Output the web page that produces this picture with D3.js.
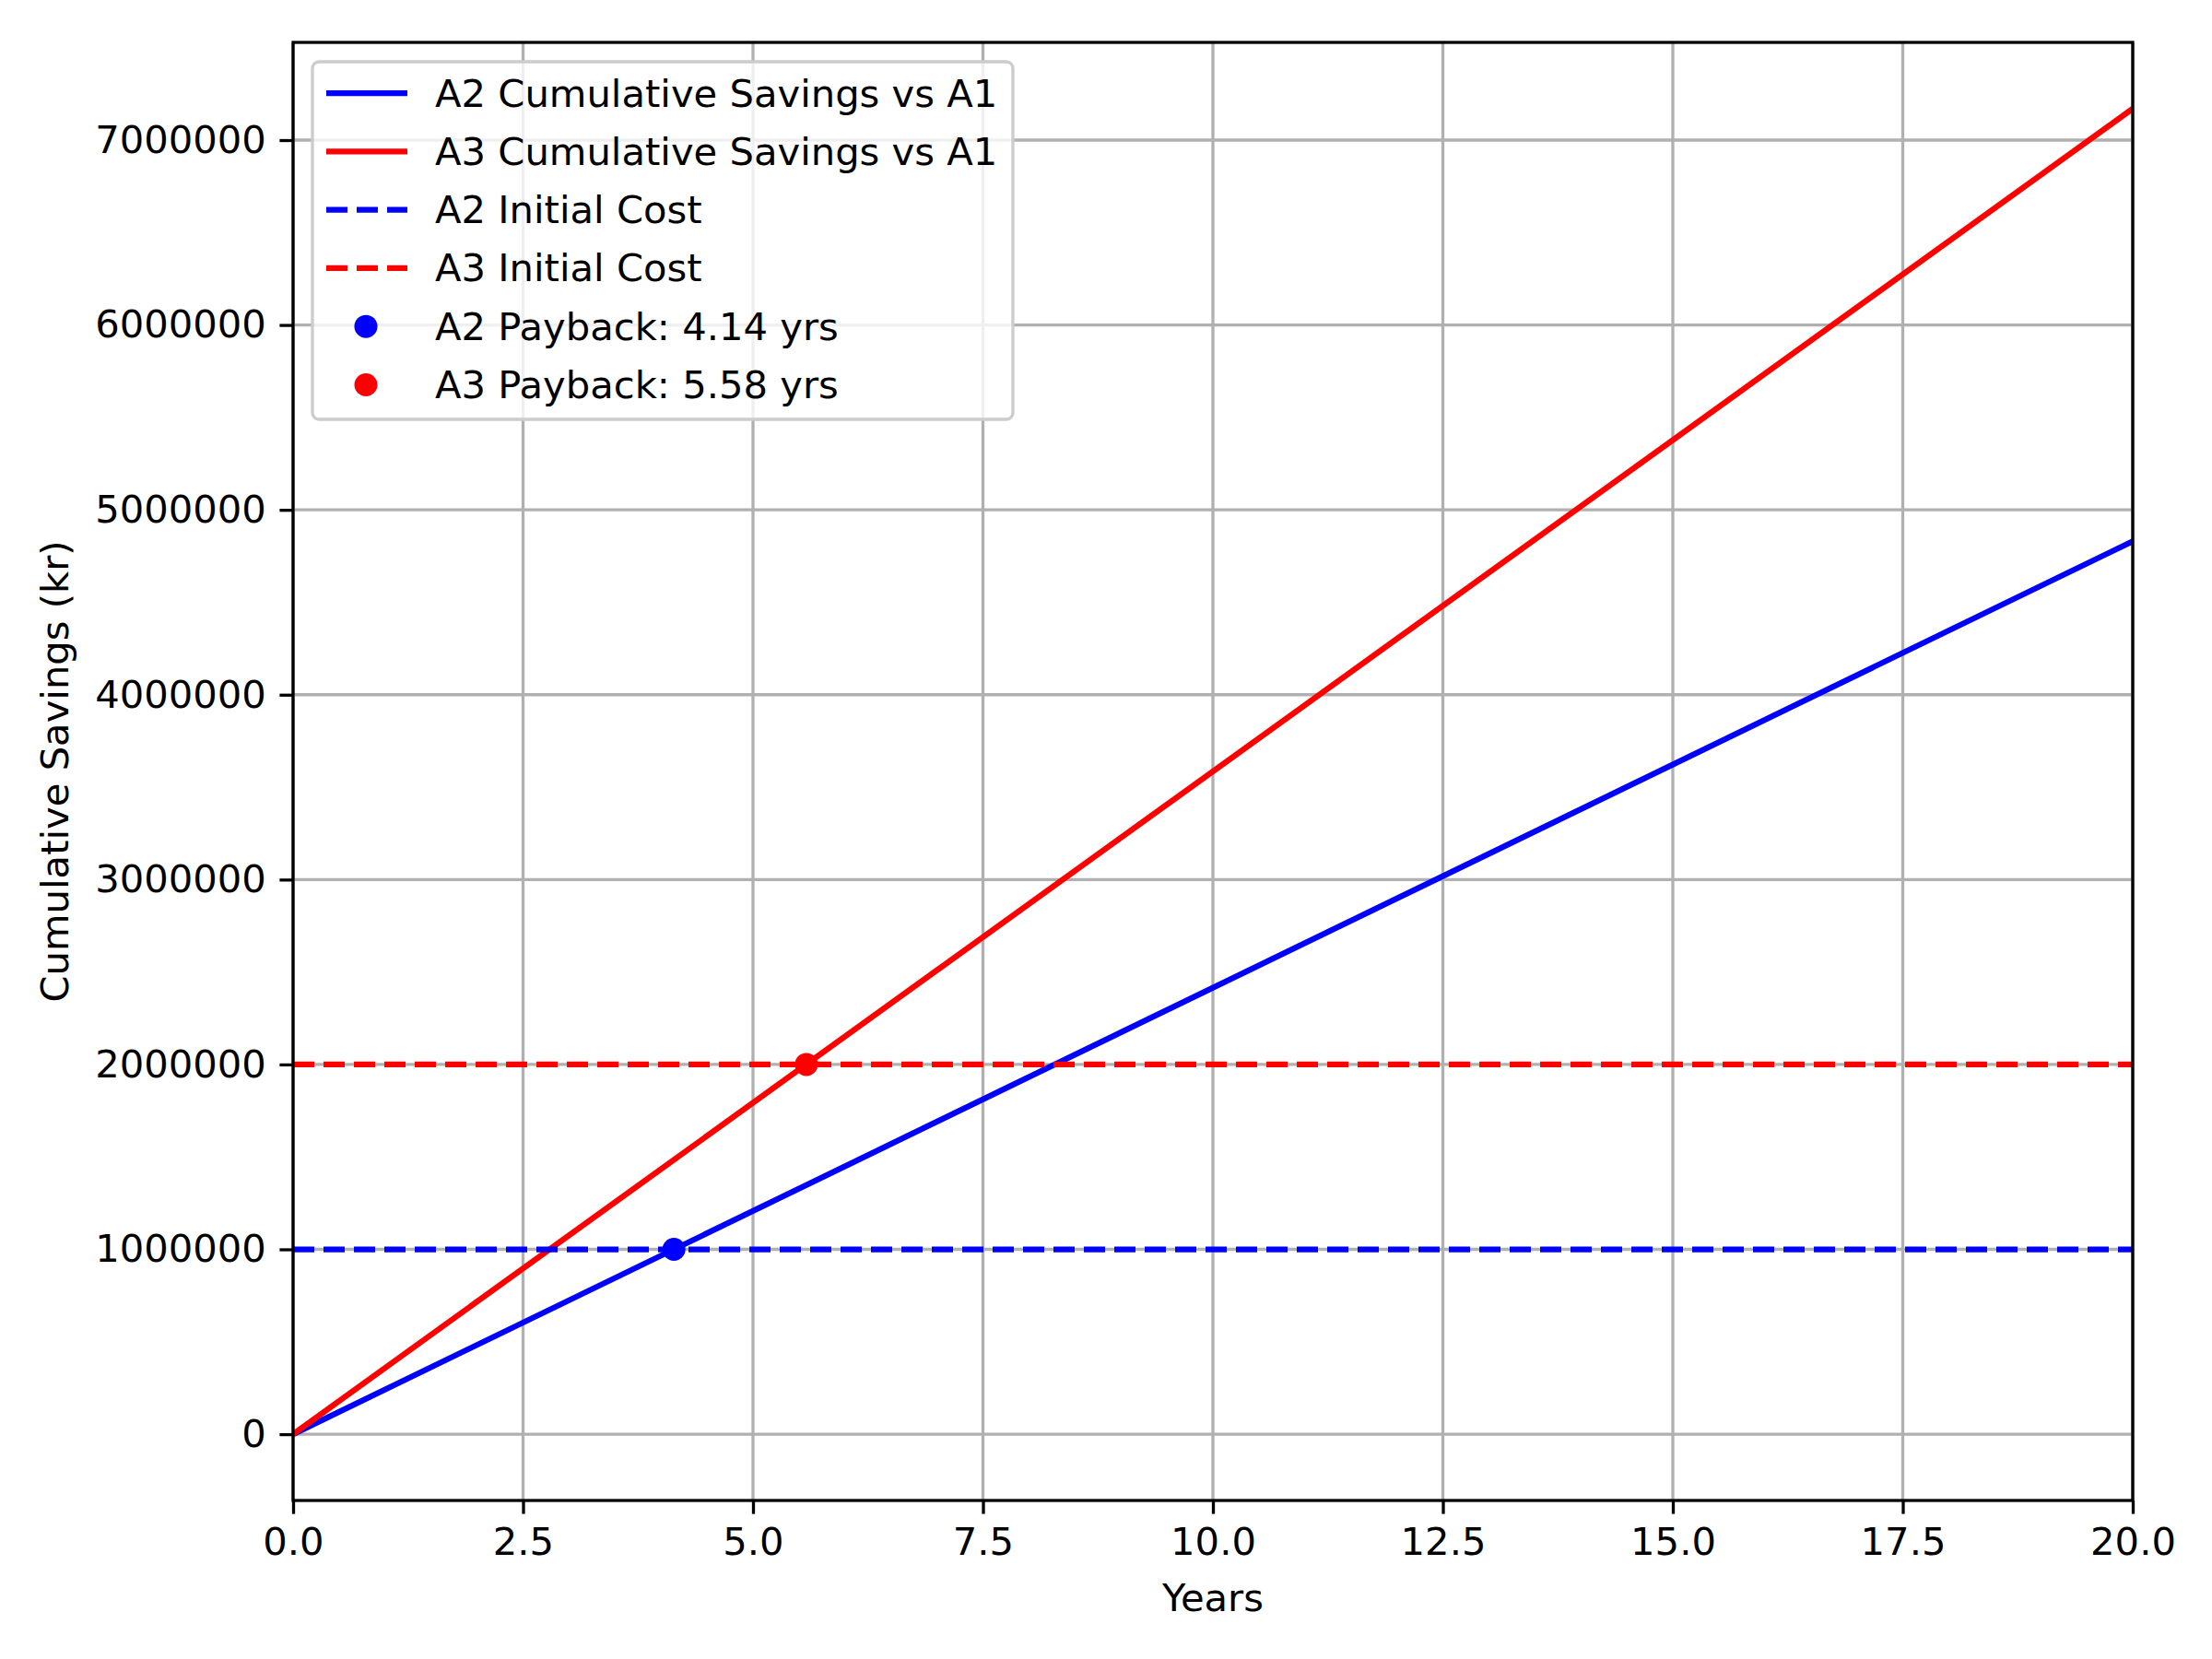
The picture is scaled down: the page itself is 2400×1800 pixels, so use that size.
<!DOCTYPE html>
<meta charset="utf-8">
<style>
body { margin: 0; background: #fff; }
text { font-family: "DejaVu Sans", sans-serif; }
</style>
<script src="https://cdn.jsdelivr.net/npm/d3@7"></script>
<body>
<script>
// data
var years = [0, 20];
var a2Savings = [0, 4830000];
var a3Savings = [0, 7170000];
var a2Cost = 1000000, a3Cost = 2000000;
var a2Payback = 4.14, a3Payback = 5.58;
var xTicks = [0, 2.5, 5, 7.5, 10, 12.5, 15, 17.5, 20];
var yTicks = [0, 1000000, 2000000, 3000000, 4000000, 5000000, 6000000, 7000000];

var W = 2400, H = 1800;
var m = {left: 318, right: 2314, top: 46, bottom: 1628};
var fs = 41.7;

var svg = d3.select("body").append("svg").attr("width", W).attr("height", H);

var x = d3.scaleLinear().domain([0, 20]).range([m.left, m.right]);
var y = d3.scaleLinear().domain([-358500, 7528500]).range([m.bottom, m.top]);

// grid
var g = svg.append("g").attr("stroke", "#b0b0b0").attr("stroke-width", 3.3);
xTicks.forEach(function(t) {
  g.append("line").attr("x1", x(t)).attr("x2", x(t)).attr("y1", m.top).attr("y2", m.bottom);
});
yTicks.forEach(function(t) {
  g.append("line").attr("y1", y(t)).attr("y2", y(t)).attr("x1", m.left).attr("x2", m.right);
});

var clip = svg.append("clipPath").attr("id", "c").append("rect")
  .attr("x", m.left).attr("y", m.top).attr("width", m.right - m.left).attr("height", m.bottom - m.top);
var plot = svg.append("g").attr("clip-path", "url(#c)");

var line = d3.line().x(function(d) { return x(d[0]); }).y(function(d) { return y(d[1]); });

plot.append("path").datum(years.map(function(t, i) { return [t, a2Savings[i]]; }))
  .attr("d", line).attr("fill", "none").attr("stroke", "blue").attr("stroke-width", 6.25);
plot.append("path").datum(years.map(function(t, i) { return [t, a3Savings[i]]; }))
  .attr("d", line).attr("fill", "none").attr("stroke", "red").attr("stroke-width", 6.25);

[[a2Cost, "blue"], [a3Cost, "red"]].forEach(function(c) {
  plot.append("line").attr("x1", m.left).attr("x2", m.right).attr("y1", y(c[0])).attr("y2", y(c[0]))
    .attr("stroke", c[1]).attr("stroke-width", 6.25).attr("stroke-dasharray", "23 10");
});

plot.append("circle").attr("cx", x(a2Payback)).attr("cy", y(a2Cost)).attr("r", 12.5).attr("fill", "blue");
plot.append("circle").attr("cx", x(a3Payback)).attr("cy", y(a3Cost)).attr("r", 12.5).attr("fill", "red");

// axes
var xa = svg.append("g").attr("transform", "translate(0," + m.bottom + ")")
  .call(d3.axisBottom(x).tickValues(xTicks).tickFormat(d3.format(".1f")).tickSize(14.6).tickPadding(14.6));
var ya = svg.append("g").attr("transform", "translate(" + m.left + ",0)")
  .call(d3.axisLeft(y).tickValues(yTicks).tickFormat(d3.format("d")).tickSize(14.6).tickPadding(14.6));
[xa, ya].forEach(function(a) {
  a.select(".domain").remove();
  a.selectAll("line").attr("stroke", "#000").attr("stroke-width", 3.3);
  a.selectAll("text").attr("font-size", fs).attr("fill", "#000").style("font-family", "DejaVu Sans");
});

svg.append("rect").attr("x", m.left).attr("y", m.top).attr("width", m.right - m.left).attr("height", m.bottom - m.top)
  .attr("fill", "none").attr("stroke", "#000").attr("stroke-width", 3.3);

svg.append("text").attr("x", (m.left + m.right) / 2).attr("y", 1748).attr("text-anchor", "middle")
  .attr("font-size", fs).text("Years");
svg.append("text").attr("transform", "translate(74," + ((m.top + m.bottom) / 2) + ") rotate(-90)")
  .attr("text-anchor", "middle").attr("font-size", fs).text("Cumulative Savings (kr)");

// legend
var entries = [
  {label: "A2 Cumulative Savings vs A1", color: "blue", type: "line"},
  {label: "A3 Cumulative Savings vs A1", color: "red", type: "line"},
  {label: "A2 Initial Cost", color: "blue", type: "dash"},
  {label: "A3 Initial Cost", color: "red", type: "dash"},
  {label: "A2 Payback: " + a2Payback + " yrs", color: "blue", type: "dot"},
  {label: "A3 Payback: " + a3Payback + " yrs", color: "red", type: "dot"}
];
var lg = svg.append("g");
lg.append("rect").attr("x", 339).attr("y", 67).attr("width", 760).attr("height", 388).attr("rx", 7)
  .attr("fill", "#fff").attr("fill-opacity", 0.8).attr("stroke", "#ccc").attr("stroke-width", 3.3);
entries.forEach(function(e, i) {
  var cy = 101 + i * 63.3;
  if (e.type === "dot") {
    lg.append("circle").attr("cx", 397).attr("cy", cy).attr("r", 12.5).attr("fill", e.color);
  } else {
    lg.append("line").attr("x1", 354).attr("x2", 442).attr("y1", cy).attr("y2", cy)
      .attr("stroke", e.color).attr("stroke-width", 6.25)
      .attr("stroke-dasharray", e.type === "dash" ? "23 10" : null);
  }
  lg.append("text").attr("x", 472).attr("y", cy).attr("dy", "0.35em").attr("font-size", fs).text(e.label);
});
</script>
</body>
